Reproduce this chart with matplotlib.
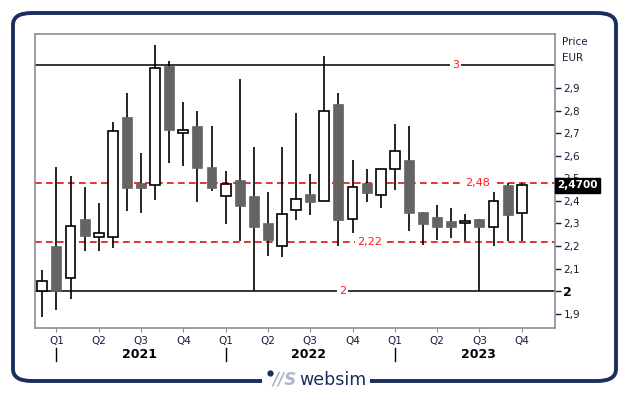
import matplotlib
matplotlib.use("Agg")
import matplotlib.pyplot as plt
from matplotlib.patches import Rectangle, FancyBboxPatch
from matplotlib.lines import Line2D
import matplotlib.transforms as mtransforms

# ---- data (monthly candles, Jan 2021 .. Nov 2023) ----
opens  = [2.000, 2.200, 2.058, 2.320, 2.239, 2.239, 2.771, 2.478, 2.469, 2.999,
          2.699, 2.732, 2.550, 2.420, 2.493, 2.420, 2.302, 2.199, 2.358, 2.431,
          2.398, 2.829, 2.319, 2.478, 2.428, 2.540, 2.581, 2.350, 2.329, 2.311,
          2.301, 2.320, 2.286, 2.470, 2.348]
highs  = [2.094, 2.549, 2.509, 2.460, 2.389, 2.748, 2.876, 2.612, 3.090, 3.018,
          2.836, 2.796, 2.732, 2.532, 2.940, 2.637, 2.438, 2.637, 2.788, 2.519,
          3.041, 2.876, 2.581, 2.541, 2.540, 2.740, 2.732, 2.350, 2.382, 2.369,
          2.342, 2.320, 2.440, 2.478, 2.478]
lows   = [1.888, 1.917, 1.966, 2.180, 2.180, 2.190, 2.357, 2.347, 2.406, 2.569,
          2.556, 2.397, 2.445, 2.299, 2.221, 2.000, 2.158, 2.150, 2.317, 2.339,
          2.398, 2.199, 2.260, 2.397, 2.367, 2.447, 2.268, 2.206, 2.229, 2.237,
          2.221, 2.000, 2.199, 2.221, 2.221]
closes = [2.047, 2.000, 2.288, 2.246, 2.260, 2.708, 2.459, 2.459, 2.987, 2.715,
          2.715, 2.547, 2.459, 2.476, 2.379, 2.286, 2.229, 2.341, 2.407, 2.397,
          2.796, 2.317, 2.460, 2.437, 2.540, 2.619, 2.348, 2.299, 2.286, 2.286,
          2.310, 2.286, 2.398, 2.339, 2.470]

quarter_labels = ["Q1", "Q2", "Q3", "Q4"] * 3
quarter_pos = [1 + 3 * k for k in range(12)]
years = ["2021", "2022", "2023"]
year_pos = [6.9, 18.9, 30.9]
year_sep = [1, 13, 25]

yticks = [1.9, 2.0, 2.1, 2.2, 2.3, 2.4, 2.5, 2.6, 2.7, 2.8, 2.9]
ytick_labels = ["1,9", "2", "2,1", "2,2", "2,3", "2,4", "2,5", "2,6", "2,7", "2,8", "2,9"]

levels_solid = [3.0, 2.0]
levels_solid_lbl = ["3", "2"]
levels_solid_x = [29.3, 21.3]
levels_dash = [2.48, 2.22]
levels_dash_lbl = ["2,48", "2,22"]
levels_dash_x = [30.9, 23.2]
last_price = 2.47
last_label = "2,4700"

W, H = 629, 395
fig = plt.figure(figsize=(W / 100, H / 100), dpi=100)
fig.patch.set_facecolor("white")

navy = "#1b2f5e"
txtc = "#1a1a3a"

# outer rounded frame
frame = FancyBboxPatch((13 / W, 14 / H), 603 / W, 368 / H,
                       boxstyle="round,pad=0,rounding_size=0.03",
                       transform=fig.transFigure, fill=False,
                       edgecolor=navy, linewidth=2.8, zorder=0)
fig.patches.append(frame)

ax = fig.add_axes([35 / W, 1 - 328 / H, 520 / W, 294 / H])
ax.set_xlim(-0.52, 36.36)
ax.set_ylim(1.8376, 3.1385)

for s in ax.spines.values():
    s.set_color("#8c8c9c")
    s.set_linewidth(1.2)

# level lines
for lv, lb, lx in zip(levels_solid, levels_solid_lbl, levels_solid_x):
    ax.axhline(lv, color="black", lw=1.1, zorder=1)
    ax.text(lx, lv, lb, color="#ff1a1a", fontsize=8, ha="center", va="center",
            bbox=dict(facecolor="white", edgecolor="none", pad=1.5), zorder=2)
for lv, lb, lx in zip(levels_dash, levels_dash_lbl, levels_dash_x):
    ax.axhline(lv, color="#dd1111", lw=1.2, ls=(0, (4, 2.6)), zorder=1)
    ax.text(lx, lv, lb, color="#ff1a1a", fontsize=8, ha="center", va="center",
            bbox=dict(facecolor="white", edgecolor="none", pad=1.5), zorder=2)

# candles
bw = 0.70
for i, (o, h, l, c) in enumerate(zip(opens, highs, lows, closes)):
    ax.add_line(Line2D([i, i], [l, h], color="black", lw=1.2, zorder=3,
                       solid_capstyle="butt"))
    lo, hi = min(o, c), max(o, c)
    if c >= o:
        rect = Rectangle((i - bw / 2, lo), bw, max(hi - lo, 0.004),
                         facecolor="white", edgecolor="black", lw=1.2, zorder=4)
    else:
        rect = Rectangle((i - bw / 2, lo), bw, hi - lo,
                         facecolor="#646464", edgecolor="#646464", lw=0.5, zorder=4)
    ax.add_patch(rect)

# y axis on the right
ax.yaxis.tick_right()
ax.set_yticks(yticks)
ax.set_yticklabels(ytick_labels, fontsize=7.5, color=txtc)
ax.tick_params(axis="y", direction="out", length=4, width=1, color="#1a1a3a", pad=2)
for t in ax.get_yticklabels():
    if t.get_text() == "2":
        t.set_fontweight("bold")
        t.set_fontsize(9)
        t.set_color("black")

# x axis
ax.set_xticks(quarter_pos)
ax.set_xticklabels(quarter_labels, fontsize=7.5, color=txtc)
ax.tick_params(axis="x", direction="out", length=3, width=0.8, color="#8c8c9c", pad=3)

trans = mtransforms.blended_transform_factory(ax.transData, fig.transFigure)
for yl, xp in zip(years, year_pos):
    ax.text(xp, 1 - 354 / H, yl, transform=trans, fontsize=9, fontweight="bold",
            ha="center", va="center", color="black")
for xs in year_sep:
    fig.add_artist(Line2D([xs, xs], [1 - 348 / H, 1 - 361 / H], transform=trans,
                          color="black", lw=1))

# Price / EUR labels
fig.text(562 / W, 1 - 42 / H, "Price", fontsize=7.5, color=txtc, ha="left", va="center")
fig.text(562 / W, 1 - 58 / H, "EUR", fontsize=7.5, color=txtc, ha="left", va="center")

# last price box
ytr = mtransforms.blended_transform_factory(ax.transAxes, ax.transData)
ax.text(1.004, last_price, last_label, transform=ytr, fontsize=7.5, fontweight="bold",
        color="white", ha="left", va="center", clip_on=False, zorder=10,
        bbox=dict(facecolor="black", edgecolor="black", pad=1.8))

# websim logo on bottom frame
fig.patches.append(Rectangle((262 / W, 372 / H * 0 + (H - 388) / H), 108 / W, 16 / H,
                             transform=fig.transFigure, facecolor="white",
                             edgecolor="none", zorder=1))
fig.text(273 / W, 1 - 380 / H, "//S", fontsize=12, fontstyle="italic", fontweight="bold",
         color="#a9b8cc", ha="left", va="center", zorder=2)
fig.add_artist(Line2D([270 / W], [1 - 373 / H], marker="o", markersize=3.5,
                      color="#1b2f5e", transform=fig.transFigure))
fig.text(299 / W, 1 - 380 / H, "websim", fontsize=12.5, color=navy,
         ha="left", va="center", zorder=2)

fig.savefig("out.png", dpi=100)
